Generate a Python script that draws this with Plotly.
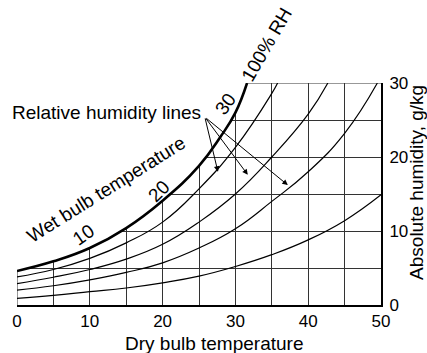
import plotly.graph_objects as go

# Saturation (100% RH) curve: dry bulb temperature (deg C) vs absolute humidity (g/kg)
sat_t = [0, 5, 10, 15, 20, 25, 28, 30, 31.6]
sat_w = [4.6, 5.9, 7.7, 10.4, 14.1, 18.8, 22.8, 26.0, 30.0]

# Relative humidity lines below saturation
rh80_t = [0, 5, 10, 15, 20, 25, 30, 35, 35.8]
rh80_w = [3.8, 4.8, 6.3, 8.4, 11.2, 15.7, 21.3, 28.6, 30.0]

rh60_t = [0, 5, 10, 15, 20, 25, 30, 35, 40, 42.7]
rh60_w = [2.9, 3.75, 4.8, 6.2, 8.2, 11.2, 15.0, 20.0, 25.8, 30.0]

rh40_t = [0, 5, 10, 15, 20, 25, 30, 35, 40, 45, 49.5]
rh40_w = [2.0, 2.6, 3.4, 4.4, 5.7, 7.7, 10.3, 14.0, 18.0, 23.2, 30.0]

rh20_t = [0, 5, 10, 15, 20, 25, 30, 35, 40, 45, 50]
rh20_w = [0.9, 1.3, 1.8, 2.3, 3.0, 3.9, 5.2, 6.8, 8.8, 11.4, 14.9]

# Axis ticks and grid
x_ticks = [0, 10, 20, 30, 40, 50]
y_ticks = [0, 10, 20, 30]
x_grid = [5, 10, 15, 20, 25, 30, 35, 40, 45]
y_grid = [5, 10, 15, 20, 25]
x_max = 50
y_max = 30

# Wet bulb temperature marks along the saturation curve
wb_labels = ["10", "20", "30"]
wb_x = [9.2, 19.4, 28.7]
wb_y = [9.5, 15.4, 27.2]
wb_angle = [-35, -45, -55]

# Arrow targets for the relative humidity callout
arrow_x = [27.6, 31.7, 37.2]
arrow_y = [18.0, 17.6, 16.2]
arrow_tail = (25.8, 25.4)

FONT = "Liberation Sans, Arial, sans-serif"
INK = "black"
GRID = "#333333"
SMOOTH = 1.3

fig = go.Figure()

# White cover above the saturation curve hides grid lines there
fig.add_trace(go.Scatter(x=[sat_t[0], sat_t[-1]], y=[y_max, y_max], mode="lines",
                         line=dict(width=0, color="rgba(0,0,0,0)"),
                         hoverinfo="skip", showlegend=False))
fig.add_trace(go.Scatter(x=sat_t, y=sat_w, mode="lines", fill="tonexty",
                         fillcolor="white",
                         line=dict(width=0, shape="spline", smoothing=SMOOTH),
                         hoverinfo="skip", showlegend=False))

# Left edge below saturation and top line right of saturation
fig.add_trace(go.Scatter(x=[0, 0], y=[0, sat_w[0]], mode="lines",
                         line=dict(color=GRID, width=1), showlegend=False))
fig.add_trace(go.Scatter(x=[sat_t[-1], x_max], y=[y_max, y_max], mode="lines",
                         line=dict(color=GRID, width=1), showlegend=False))

for t, w in [(rh80_t, rh80_w), (rh60_t, rh60_w), (rh40_t, rh40_w), (rh20_t, rh20_w)]:
    fig.add_trace(go.Scatter(x=t, y=w, mode="lines",
                             line=dict(color=INK, width=1.2, shape="spline",
                                       smoothing=SMOOTH),
                             showlegend=False))

fig.add_trace(go.Scatter(x=sat_t, y=sat_w, mode="lines",
                         line=dict(color=INK, width=2.6, shape="spline",
                                   smoothing=SMOOTH),
                         showlegend=False))

ann = []
font = dict(family=FONT, size=19, color=INK)
tick_font = dict(family=FONT, size=17, color=INK)
for lab, x, y, a in zip(wb_labels, wb_x, wb_y, wb_angle):
    ann.append(dict(x=x, y=y, text=lab, textangle=a, showarrow=False, font=font,
                    xanchor="center", yanchor="middle"))

ann.append(dict(x=12.2, y=15.6, text="Wet bulb temperature", textangle=-32,
                showarrow=False, font=font, xanchor="center", yanchor="middle"))
ann.append(dict(x=12.3, y=26.0, text="Relative humidity lines", showarrow=False,
                font=font, xanchor="center", yanchor="middle"))

# Labels outside the axis range are placed in paper coordinates
ann.append(dict(xref="paper", yref="paper", x=34.3 / x_max, y=35.2 / y_max,
                text="100% RH", textangle=-60, showarrow=False, font=font,
                xanchor="center", yanchor="middle"))
ann.append(dict(xref="paper", yref="paper", x=0.54, y=-0.172,
                text="Dry bulb temperature", showarrow=False, font=font,
                xanchor="center", yanchor="middle"))
ann.append(dict(xref="paper", yref="paper", x=1.098, y=0.553,
                text="Absolute humidity, g/kg", textangle=-90, showarrow=False,
                font=font, xanchor="center", yanchor="middle"))

for x, y in zip(arrow_x, arrow_y):
    ann.append(dict(x=x, y=y, ax=arrow_tail[0], ay=arrow_tail[1], axref="x", ayref="y",
                    text="", showarrow=True, arrowhead=2, arrowsize=1.1,
                    arrowwidth=1, arrowcolor=INK, standoff=0, startstandoff=0))

fig.update_layout(
    width=427, height=353,
    margin=dict(l=13, r=46, t=83, b=48),
    paper_bgcolor="white", plot_bgcolor="white",
    font=font,
    annotations=ann,
    showlegend=False,
)
fig.update_xaxes(range=[0, x_max], tickvals=x_ticks, ticks="", showgrid=False,
                 zeroline=False, showline=True, linewidth=2, linecolor=INK,
                 tickfont=tick_font, ticklabelstandoff=0,
                 minor=dict(tickvals=x_grid, showgrid=True, gridcolor=GRID,
                            gridwidth=1, ticks=""))
fig.update_yaxes(range=[0, y_max], tickvals=y_ticks, ticks="", side="right",
                 showgrid=False, zeroline=False, showline=True, linewidth=2,
                 linecolor=INK, tickfont=tick_font, ticklabelstandoff=3,
                 minor=dict(tickvals=y_grid, showgrid=True, gridcolor=GRID,
                            gridwidth=1, ticks=""))

fig.write_html("out.html")
